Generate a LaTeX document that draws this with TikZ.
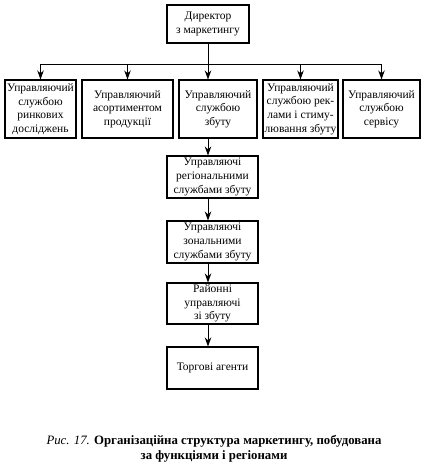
\documentclass[tikz,border=0pt]{standalone}
\usepackage{fontspec}
\setmainfont{Liberation Serif}
\usetikzlibrary{arrows.meta}
\tikzset{
  box/.style={draw, line width=1.1pt, align=center, inner sep=0.5pt,
    font=\fontsize{11.5}{13.6}\selectfont},
  arr/.style={line width=0.9pt, -{Stealth[length=9pt,width=6.5pt]}},
  ln/.style={line width=0.9pt}
}
\begin{document}
\begin{tikzpicture}[x=1pt,y=-1pt]
\useasboundingbox (0,0) rectangle (428,474);
\node[box, minimum width=82, minimum height=38] (top) at (208,24) {Директор\\з маркетингу};
\node[box, minimum width=71, minimum height=58] (b1) at (40.5,109) {Управляючий\\службою\\ринкових\\досліджень};
\node[box, minimum width=91, minimum height=58] (b2) at (127.5,109) {Управляючий\\асортиментом\\продукції};
\node[box, minimum width=78, minimum height=58] (b3) at (218,109) {Управляючий\\службою\\збуту};
\node[box, minimum width=75, minimum height=58] (b4) at (300.5,109) {Управляючий\\службою рек-\\лами і стиму-\\лювання збуту};
\node[box, minimum width=77, minimum height=58] (b5) at (381.5,109) {Управляючий\\службою\\сервісу};
\node[box, minimum width=91, minimum height=42] (r1) at (212.5,177) {Управляючі\\регіональними\\службами збуту};
\node[box, minimum width=91, minimum height=42] (r2) at (212.5,242) {Управляючі\\зональними\\службами збуту};
\node[box, minimum width=91, minimum height=41] (r3) at (212.5,303.5) {Районні\\управляючі\\зі збуту};
\node[box, minimum width=91, minimum height=42] (r4) at (212.5,368) {Торгові агенти};
\coordinate (bus) at (209,64);
\draw[ln] (b1.north |- bus) -- (b5.north |- bus);
\draw[arr] (top.south) -- (top.south |- b3.north);
\foreach \n in {b1,b2,b4,b5} \draw[arr] (\n.north |- bus) -- (\n.north);
\draw[arr] (b3.south -| top.south) -- (r1.north -| top.south);
\draw[arr] (r1.south -| top.south) -- (r2.north -| top.south);
\draw[arr] (r2.south -| top.south) -- (r3.north -| top.south);
\draw[arr] (r3.south -| top.south) -- (r4.north -| top.south);
\node[align=center, font=\fontsize{12.8}{15}\selectfont] (cap) at (214,449) {\textit{Рис. 17.} \textbf{Організаційна структура маркетингу, побудована}\\\textbf{за функціями і регіонами}};
\end{tikzpicture}
\end{document}
